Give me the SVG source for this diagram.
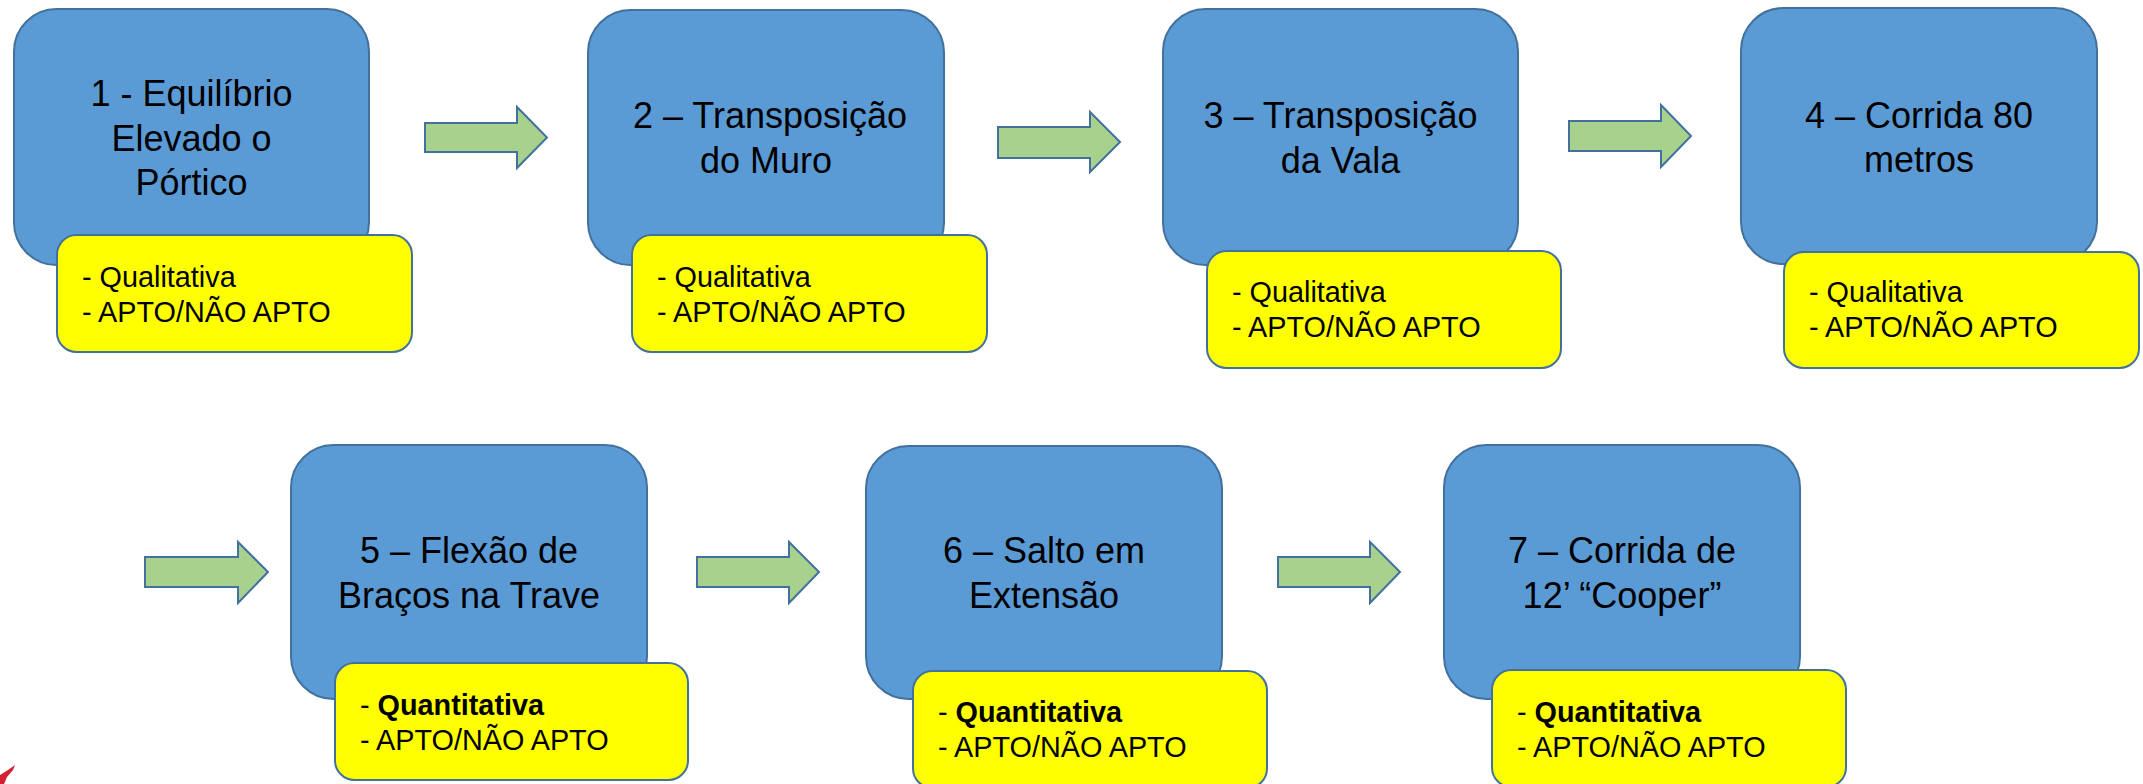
<svg xmlns="http://www.w3.org/2000/svg" width="2143" height="784" viewBox="0 0 2143 784">
<style>
.blue{fill:#5B9BD5;stroke:#41719C;stroke-width:2}
.yel{fill:#FFFF00;stroke:#41719C;stroke-width:2}
.arr{fill:#A9D18E;stroke:#41719C;stroke-width:2;stroke-linejoin:miter}
.t{font-family:"Liberation Sans",Arial,sans-serif;font-size:36px;fill:#000;text-anchor:middle}
.s{font-family:"Liberation Sans",Arial,sans-serif;font-size:28.8px;fill:#000}
.b{font-weight:bold}
</style>
<rect width="2143" height="784" fill="#FFFFFF"/>
<g id="connectors">
<polygon class="arr" points="425,123 517,123 517,107 547,137.5 517,168 517,152 425,152"/>
<polygon class="arr" points="998,127 1090,127 1090,112 1120,142 1090,172 1090,158 998,158"/>
<polygon class="arr" points="1569,121 1661,121 1661,105 1691,136 1661,167 1661,151 1569,151"/>
<polygon class="arr" points="145,557 238,557 238,542 268,572 238,603 238,587 145,587"/>
<polygon class="arr" points="697,557 789,557 789,542 819,572 789,603 789,587 697,587"/>
<polygon class="arr" points="1278,557 1370,557 1370,542 1400,572 1370,603 1370,587 1278,587"/>
</g>
<g id="node1">
<rect class="blue" x="14" y="9" width="355" height="256" rx="42.5"/>
<text class="t" x="191.5" y="106">1 - Equilíbrio</text>
<text class="t" x="191.5" y="150.5">Elevado o</text>
<text class="t" x="191.5" y="195">Pórtico</text>
<rect class="yel" x="57" y="235" width="355" height="117" rx="19.5"/>
<text class="s" x="82" y="287">- Qualitativa</text>
<text class="s" x="82" y="322">- APTO/NÃO APTO</text>
</g>
<g id="node2">
<rect class="blue" x="588" y="10" width="356" height="255" rx="42.5"/>
<text class="t" x="770" y="128">2 – Transposição</text>
<text class="t" x="766" y="173">do Muro</text>
<rect class="yel" x="632" y="235" width="355" height="117" rx="19.5"/>
<text class="s" x="657" y="287">- Qualitativa</text>
<text class="s" x="657" y="322">- APTO/NÃO APTO</text>
</g>
<g id="node3">
<rect class="blue" x="1163" y="9" width="355" height="256" rx="42.5"/>
<text class="t" x="1340.5" y="128">3 – Transposição</text>
<text class="t" x="1340.5" y="173">da Vala</text>
<rect class="yel" x="1207" y="251" width="354" height="117" rx="19.5"/>
<text class="s" x="1232" y="302">- Qualitativa</text>
<text class="s" x="1232" y="337">- APTO/NÃO APTO</text>
</g>
<g id="node4">
<rect class="blue" x="1741" y="8" width="356" height="256" rx="42.5"/>
<text class="t" x="1919" y="128">4 – Corrida 80</text>
<text class="t" x="1919" y="172">metros</text>
<rect class="yel" x="1784" y="252" width="355" height="116" rx="19.5"/>
<text class="s" x="1809" y="302">- Qualitativa</text>
<text class="s" x="1809" y="337">- APTO/NÃO APTO</text>
</g>
<g id="node5">
<rect class="blue" x="291" y="445" width="356" height="254" rx="42.5"/>
<text class="t" x="469" y="563">5 – Flexão de</text>
<text class="t" x="469" y="608">Braços na Trave</text>
<rect class="yel" x="335" y="663" width="353" height="117" rx="19.5"/>
<text class="s" x="360" y="715">- <tspan class="b">Quantitativa</tspan></text>
<text class="s" x="360" y="750">- APTO/NÃO APTO</text>
</g>
<g id="node6">
<rect class="blue" x="866" y="446" width="356" height="253" rx="42.5"/>
<text class="t" x="1044" y="563">6 – Salto em</text>
<text class="t" x="1044" y="608">Extensão</text>
<rect class="yel" x="913" y="671" width="354" height="117" rx="19.5"/>
<text class="s" x="938" y="722">- <tspan class="b">Quantitativa</tspan></text>
<text class="s" x="938" y="757">- APTO/NÃO APTO</text>
</g>
<g id="node7">
<rect class="blue" x="1444" y="445" width="356" height="254" rx="42.5"/>
<text class="t" x="1622" y="563">7 – Corrida de</text>
<text class="t" x="1622" y="608">12’ “Cooper”</text>
<rect class="yel" x="1492" y="670" width="354" height="117" rx="19.5"/>
<text class="s" x="1517" y="722">- <tspan class="b">Quantitativa</tspan></text>
<text class="s" x="1517" y="757">- APTO/NÃO APTO</text>
</g>
<path d="M0,784 L0,775 L8,770 L15,765 L13,770 L7,777 L4,784 Z" fill="#D42030"/>
</svg>
